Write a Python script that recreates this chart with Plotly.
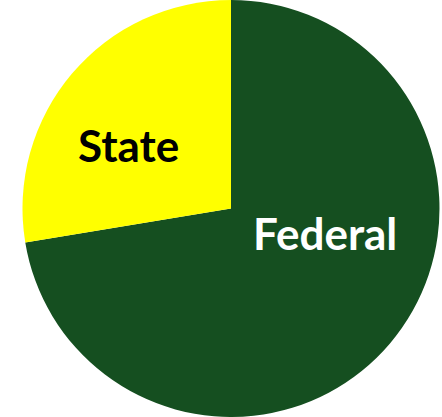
import plotly.graph_objects as go

labels = ["Federal", "State"]
values = [72.4, 27.6]
colors = ["#154f20", "#ffff00"]
text_colors = ["white", "black"]

W, H = 442, 417
cx, r = 231, 208.5

fig = go.Figure(go.Pie(
    labels=labels, values=values, sort=False, direction="clockwise", rotation=0,
    marker=dict(colors=colors, line=dict(width=0)),
    textinfo="none", hoverinfo="label+percent",
    domain=dict(x=[(cx - r) / W, (cx + r) / W], y=[0, 1]),
    showlegend=False,
))

label_pos = {"Federal": (325, 233), "State": (128, 145)}
for lab, tc in zip(labels, text_colors):
    px, py = label_pos[lab]
    fig.add_annotation(x=px / W, y=1 - py / H, xref="paper", yref="paper",
                       text="<b>%s</b>" % lab, showarrow=False,
                       font=dict(family="Lato", size=44, color=tc),
                       xanchor="center", yanchor="middle")

fig.update_layout(width=W, height=H, margin=dict(l=0, r=0, t=0, b=0),
                  paper_bgcolor="white", plot_bgcolor="white")
fig.write_html("out.html", config={"displayModeBar": False},
               post_script="document.body.style.margin='0';")
